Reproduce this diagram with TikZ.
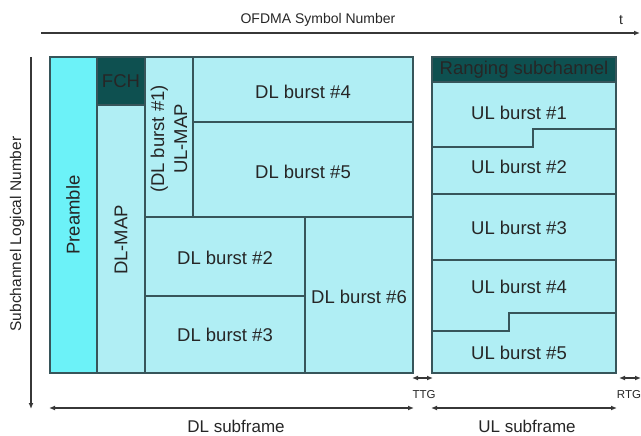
\documentclass[tikz,border=0pt]{standalone}
\usepackage{fontspec}
\setmainfont{Liberation Sans}
\usetikzlibrary{arrows.meta}
\definecolor{burstfill}{RGB}{176,238,244}
\definecolor{preamblefill}{RGB}{108,242,248}
\definecolor{headfill}{RGB}{14,80,80}
\definecolor{framedraw}{RGB}{55,85,90}
\definecolor{axisdraw}{RGB}{55,55,55}
\newcommand{\burstsize}{\fontsize{18.5}{21}\selectfont}
\newcommand{\axissize}{\fontsize{14}{16}\selectfont}
\newcommand{\gapsize}{\fontsize{11.5}{13}\selectfont}

\begin{document}
\begin{tikzpicture}[x=1pt,y=-1pt]
\tikzstyle{every node}=[text=black!85,inner sep=0pt]
\tikzstyle{burst}=[draw=framedraw,line width=1.2pt,fill=burstfill]
\tikzstyle{bursttext}=[font=\burstsize]
\tikzstyle{axis}=[draw=axisdraw,line width=1.3pt,arrows={-Latex[length=6pt,width=5pt]}]
\tikzstyle{span}=[draw=axisdraw,line width=1.3pt,arrows={Latex[length=6pt,width=5pt]-Latex[length=6pt,width=5pt]}]
\useasboundingbox (0,0) rectangle (641,436);
% downlink subframe
\draw[burst,fill=preamblefill] (50,57) rectangle (97,373);
\draw[burst,fill=headfill] (97,57) rectangle (145,105);
\draw[burst] (97,105) rectangle (145,373);
\draw[burst] (145,57) rectangle (193,217);
\draw[burst] (193,57) rectangle (413,122);
\draw[burst] (193,122) rectangle (413,217);
\draw[burst] (145,217) rectangle (305,296);
\draw[burst] (145,296) rectangle (305,373);
\draw[burst] (305,217) rectangle (413,373);
\node[bursttext,rotate=90] (preamble) at (73,215) {Preamble};
\node[bursttext] (fch) at (121,81) {FCH};
\node[bursttext,rotate=90] (dlmap) at (121,240) {DL-MAP};
\node[bursttext,rotate=90,align=center] (ulmap) at (169,139) {(DL burst \#1)\\[2pt]UL-MAP};
\node[bursttext] (dl4) at (303,92) {DL burst \#4};
\node[bursttext] (dl5) at (303,172) {DL burst \#5};
\node[bursttext] (dl2) at (225,258) {DL burst \#2};
\node[bursttext] (dl3) at (225,335) {DL burst \#3};
\node[bursttext] (dl6) at (359,297) {DL burst \#6};
% uplink subframe
\draw[burst] (432,57) rectangle (616,373);
\draw[burst,fill=headfill] (432,57) rectangle (616,82);
\draw[framedraw,line width=1.2pt] (432,147) -| (533,129) -- (616,129);
\draw[framedraw,line width=1.2pt] (432,194) -- (616,194);
\draw[framedraw,line width=1.2pt] (432,260) -- (616,260);
\draw[framedraw,line width=1.2pt] (432,331) -| (509,313) -- (616,313);
\node[font=\fontsize{18.5}{21}\selectfont] (ranging) at (524,70) {Ranging subchannel};
\node[bursttext] (ul1) at (519,113) {UL burst \#1};
\node[bursttext] (ul2) at (519,167) {UL burst \#2};
\node[bursttext] (ul3) at (519,228) {UL burst \#3};
\node[bursttext] (ul4) at (519,287) {UL burst \#4};
\node[bursttext] (ul5) at (519,353) {UL burst \#5};
% axes
\coordinate (tstart) at (41,33);
\coordinate (tend) at (640,33);
\coordinate (chtop) at (31,57);
\coordinate (chbot) at (31,409);
\draw[axis] (tstart) -- (tend);
\draw[axis] (chtop) -- (chbot);
\node[font=\axissize] (symbols) at (318,20) {OFDMA Symbol Number};
\node[font=\axissize] (t) at (621,20) {t};
\node[font=\fontsize{15.5}{17}\selectfont,rotate=90] (subch) at (17,234) {Subchannel Logical Number};
% gaps and subframe lengths
\coordinate (dlL) at (49,408);
\coordinate (dlR) at (414,408);
\coordinate (ulL) at (431,408);
\coordinate (ulR) at (617,408);
\coordinate (ttgL) at (412,378);
\coordinate (ttgR) at (433,378);
\coordinate (rtgL) at (619,378);
\coordinate (rtgR) at (641,378);
\draw[span] (dlL) -- (dlR);
\draw[span] (ulL) -- (ulR);
\draw[span] (ttgL) -- (ttgR);
\draw[span] (rtgL) -- (rtgR);
\node[font=\gapsize] (ttg) at (424,395) {TTG};
\node[font=\gapsize] (rtg) at (629,395) {RTG};
\node[font=\fontsize{17}{19}\selectfont] (dlsub) at (236,426) {DL subframe};
\node[font=\fontsize{17}{19}\selectfont] (ulsub) at (527,426) {UL subframe};
\end{tikzpicture}
\end{document}
